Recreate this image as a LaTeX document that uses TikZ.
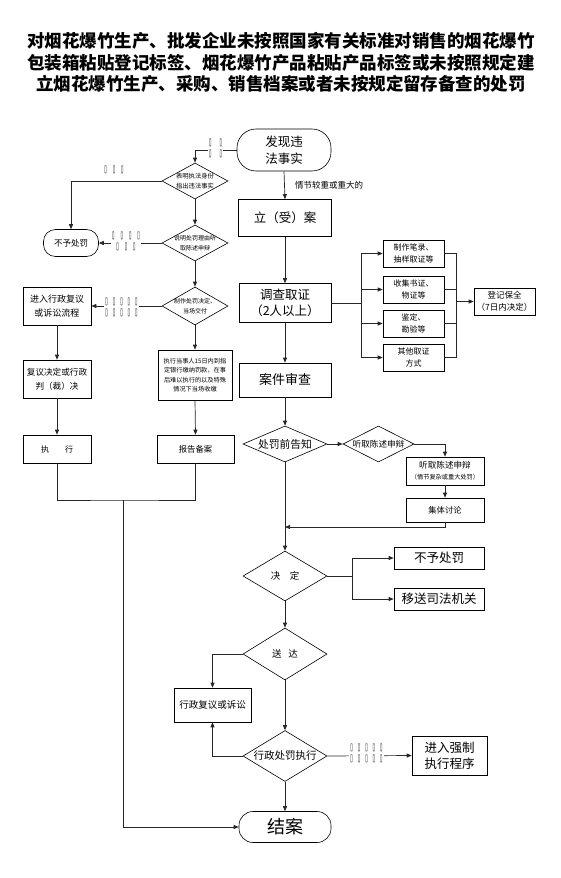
\documentclass[tikz,border=0pt]{standalone}
\usepackage{fontspec}
\usepackage{graphicx}
\setmainfont{Noto Sans CJK SC}
\newfontfamily\dejavu{DejaVu Sans}
\usetikzlibrary{shapes.geometric,arrows.meta}
\newcommand\fsz[2]{\fontsize{#1pt}{#2pt}\selectfont}
\newcommand\tofu{\scalebox{0.45}[1]{\dejavu\fsz{10}{10}▯}}
\begin{document}
\begin{tikzpicture}[x=1pt,y=-1pt,
  ln/.style={line width=0.7pt, draw=black!85},
  arr/.style={ln, -{Triangle[length=5pt,width=4pt]}},
  box/.style={draw, line width=0.6pt, rectangle, inner sep=0pt, align=center},
  rbox/.style={box, rounded corners=#1},
  dia/.style={draw, line width=0.6pt, diamond, inner sep=0pt},
  dtxt/.style={inner sep=0pt, align=center},
  tf/.style={fill=white, inner sep=1pt, align=center, font=\fsz{8}{11}},
]
\useasboundingbox (0,0) rectangle (560,878);
% title
\node[font=\bfseries\fsz{17.5}{21}, inner sep=0pt] (t1) at (281,41) {对烟花爆竹生产、批发企业未按照国家有关标准对销售的烟花爆竹};
\node[font=\bfseries\fsz{17.5}{21}, inner sep=0pt] (t2) at (281,62.5) {包装箱粘贴登记标签、烟花爆竹产品粘贴产品标签或未按照规定建};
\node[font=\bfseries\fsz{17.5}{21}, inner sep=0pt] (t3) at (281,84) {立烟花爆竹生产、采购、销售档案或者未按规定留存备查的处罚};

% main column
\node[rbox=19pt, minimum width=94pt, minimum height=42pt, font=\fsz{12.5}{17}] (fx) at (284,150) {发现违\\法事实};
\node[box, minimum width=93pt, minimum height=37pt, font=\fsz{12.5}{15}] (lian) at (285,218) {立（受）案};
\node[box, minimum width=92pt, minimum height=39pt, font=\fsz{12.5}{16}] (dc) at (285,303) {调查取证\\（2人以上）};
\node[box, minimum width=92pt, minimum height=34pt, font=\fsz{13}{15}] (aj) at (285,380) {案件审查};
\node[dia, minimum width=84pt, minimum height=36pt] (dq) at (285,444) {};
\node[dtxt, font=\fsz{10.8}{13}] (dqt) at (dq) {处罚前告知};
\node[dia, minimum width=84pt, minimum height=50pt] (dj) at (285,576) {};
\node[dtxt, font=\fsz{9.5}{12}] (djt) at (dj) {决\hspace{1em}定};
\node[dia, minimum width=84pt, minimum height=52pt] (ds) at (285,654) {};
\node[dtxt, font=\fsz{9.5}{12}] (dst) at (ds) {送\hspace{0.7em}达};
\node[dia, minimum width=84pt, minimum height=51pt] (dz) at (285,756) {};
\node[dtxt, font=\fsz{10.5}{12}] (dzt) at (dz) {行政处罚执行};
\node[rbox=14pt, minimum width=92pt, minimum height=31pt, font=\fsz{18}{20}] (ja) at (285,827) {结案};

% investigation boxes
\node[box, minimum width=61pt, minimum height=27pt, font=\fsz{8}{12}] (ra) at (413.5,253.5) {制作笔录、\\抽样取证等};
\node[box, minimum width=61pt, minimum height=27pt, font=\fsz{8}{12}] (rb) at (413.5,289.5) {收集书证、\\物证等};
\node[box, minimum width=61pt, minimum height=27pt, font=\fsz{8}{12}] (rc) at (413.5,323.5) {鉴定、\\勘验等};
\node[box, minimum width=61pt, minimum height=27pt, font=\fsz{8}{12}] (rd) at (413.5,357.5) {其他取证\\方式};
\node[box, minimum width=61pt, minimum height=27pt, font=\fsz{8.5}{12}] (dj2) at (504.5,301.5) {登记保全\\（7日内决定）};

% hearing
\node[dia, minimum width=71pt, minimum height=36pt] (dt) at (378.5,444) {};
\node[dtxt, font=\fsz{8.6}{11}] (dtt) at (dt) {听取陈述申辩};
\node[box, minimum width=78pt, minimum height=28pt] (tq) at (445,471) {\fsz{8.6}{11}听取陈述申辩\\[-1pt]\fsz{6.2}{9}（情节复杂或重大处罚）};
\node[box, minimum width=78pt, minimum height=24pt, font=\fsz{8.3}{11}] (jt) at (445,510) {集体讨论};
\node[box, minimum width=90pt, minimum height=22pt, font=\fsz{12.5}{14}] (bb2) at (439,558) {不予处罚};
\node[box, minimum width=90pt, minimum height=22pt, font=\fsz{12.5}{14}] (ys) at (439,599) {移送司法机关};
\node[box, minimum width=77pt, minimum height=34pt, font=\fsz{9.5}{12}] (xf) at (212.5,705) {行政复议或诉讼};
\node[box, minimum width=75pt, minimum height=39pt, font=\fsz{12.5}{16}] (qz) at (449.5,755.5) {进入强制\\执行程序};

% simple procedure column
\node[dia, minimum width=66pt, minimum height=36pt] (d1) at (195,181) {};
\node[dtxt, font=\fsz{6.3}{9.5}] (d1t) at (d1) {表明执法身份\\指出违法事实};
\node[dia, minimum width=66pt, minimum height=36pt] (d2) at (195,243) {};
\node[dtxt, font=\fsz{6}{9.5}] (d2t) at (d2) {说明处罚理由听\\取陈述申辩};
\node[dia, minimum width=66pt, minimum height=38pt] (d3) at (195,306) {};
\node[dtxt, font=\fsz{6}{9.5}] (d3t) at (d3) {制作处罚决定、\\当场交付};
\node[rbox=12pt, minimum width=55pt, minimum height=27pt, font=\fsz{8.5}{10}] (bb1) at (71,243) {不予处罚};
\node[box, minimum width=74pt, minimum height=50pt, font=\fsz{6.2}{9.5}] (zxd) at (195,375) {执行当事人15日内到指\\定银行缴纳罚款，在事\\后难以执行的以及特殊\\情况下当场收缴};
\node[box, minimum width=77pt, minimum height=28pt, font=\fsz{8.3}{10}] (bg) at (195.5,449) {报告备案};
\node[box, minimum width=68pt, minimum height=38pt, font=\fsz{9}{14}] (fy) at (57,306) {进入行政复议\\或诉讼流程};
\node[box, minimum width=68pt, minimum height=38pt, font=\fsz{8.6}{14}] (fj) at (57,379) {复议决定或行政\\判（裁）决};
\node[box, minimum width=68pt, minimum height=28pt, font=\fsz{8}{10}] (zx) at (57,449) {执\hspace{2em}行};

% connectors: simple procedure
\draw[arr] (fx.west) -| (d1.north);
\node[tf] (l1) at (215.5,148.5) {\tofu\hspace{8pt}\tofu\\\tofu\hspace{8pt}\tofu};
\draw[arr] (d1.west) -| (bb1.north);
\node[tf, fill=none] (l2) at (114,170) {\tofu\hspace{6pt}\tofu\hspace{6pt}\tofu};
\draw[arr] (d1.south) -- (d2.north);
\draw[arr] (d2.west) -- (bb1.east);
\node[tf] (l3) at (126,241.5) {\tofu\hspace{6pt}\tofu\hspace{6pt}\tofu\hspace{6pt}\tofu\\\tofu\hspace{6pt}\tofu\hspace{6pt}\tofu};
\draw[arr] (d2.south) -- (d3.north);
\draw[arr] (d3.west) -- (fy.east);
\node[tf] (l4) at (121.5,307) {\tofu\hspace{5pt}\tofu\hspace{5pt}\tofu\hspace{5pt}\tofu\hspace{5pt}\tofu\\\tofu\hspace{5pt}\tofu\hspace{5pt}\tofu\hspace{5pt}\tofu\hspace{5pt}\tofu};
\draw[arr] (d3.south) -- (zxd.north);
\draw[arr] (zxd.south) -- (bg.north);
\draw[arr] (fy.south) -- (fj.north);
\draw[arr] (fj.south) -- (zx.north);
\coordinate (m1) at (123,500);
\draw[ln] (zx.south) |- (m1) -| (bg.south);
\draw[arr] (m1) |- (ja.west);

% connectors: main column
\draw[arr] (fx.south) -- (lian.north);
\node[anchor=west, inner sep=0pt, font=\fsz{8.5}{10}] (qj) at (295,185) {情节较重或重大的};
\draw[arr] (lian.south) -- (dc.north);
\draw[arr] (dc.south) -- (aj.north);
\draw[arr] (aj.south) -- (dq.north);
\coordinate (b1) at (361,303);
\coordinate (bt) at (361,253.5);
\coordinate (bb) at (361,357.5);
\draw[ln] (dc.east) -- (b1);
\draw[ln] (bt) -- (bb);
\draw[arr] (bt) -- (ra.west);
\draw[arr] (bt |- rb.west) -- (rb.west);
\draw[arr] (bt |- rc.west) -- (rc.west);
\draw[arr] (bb) -- (rd.west);
\coordinate (rt) at (456,253.5);
\coordinate (rm) at (456,357.5);
\draw[ln] (ra.east) -- (rt) -- (rm) -- (rd.east);
\draw[ln] (rb.east) -- (rb.east -| rt);
\draw[ln] (rc.east) -- (rc.east -| rt);
\draw[arr] (rt |- dj2.west) -- (dj2.west);

\draw[arr] (dq.east) -- (dt.west);
\draw[arr] (dt.east) -| (tq.north);
\draw[arr] (tq.south) -- (jt.north);
\coordinate (j1) at (285,527);
\draw[arr] (jt.south) |- (j1);
\draw[arr] (dq.south) -- (dj.north);
\coordinate (k1) at (352,576);
\draw[ln] (dj.east) -- (k1);
\draw[arr] (k1) |- (bb2.west);
\draw[arr] (k1) |- (ys.west);
\draw[arr] (dj.south) -- (ds.north);
\draw[arr] (ds.west) -| (xf.north);
\draw[arr] (ds.south) -- (dz.north);
\draw[arr] (dz.west) -| (xf.south);
\draw[arr] (dz.east) -- (qz.west);
\node[tf] (l5) at (366.5,753.5) {\tofu\hspace{5pt}\tofu\hspace{5pt}\tofu\hspace{5pt}\tofu\hspace{5pt}\tofu\\\tofu\hspace{5pt}\tofu\hspace{5pt}\tofu\hspace{5pt}\tofu\hspace{5pt}\tofu};
\draw[arr] (dz.south) -- (ja.north);
\end{tikzpicture}
\end{document}
